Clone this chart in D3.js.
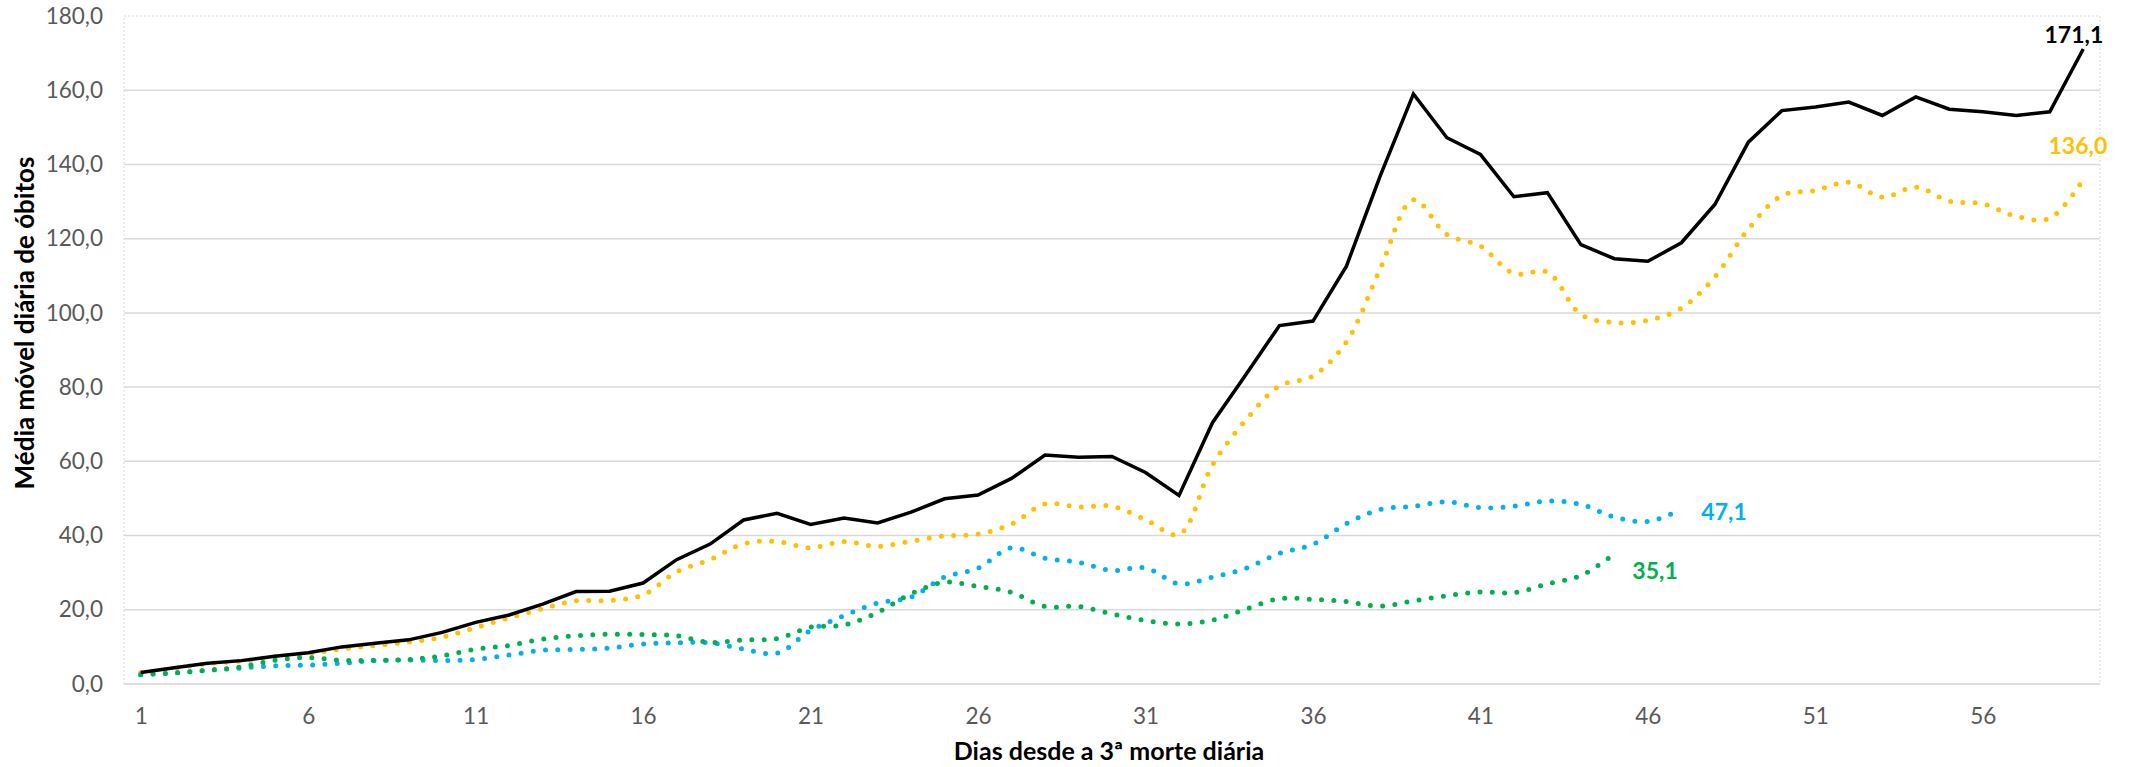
<!DOCTYPE html>
<html><head><meta charset="utf-8">
<script src="https://cdn.jsdelivr.net/npm/d3@7"></script>
<style>body{margin:0;background:#fff;} svg{display:block;} text{font-family:Lato, "Open Sans", sans-serif;}</style>
</head><body>
<svg id="chart" width="2130" height="767"></svg>
<script>
const days = d3.range(1, 60);
const seriesBlack = [3.1,4.4,5.6,6.3,7.5,8.4,10.0,11.0,11.9,13.9,16.6,18.6,21.5,24.9,25.0,27.2,33.5,37.7,44.2,46.0,43.0,44.7,43.4,46.3,49.9,50.9,55.4,61.7,61.1,61.3,57.0,50.8,70.4,83.4,96.6,97.8,112.6,136.7,159.0,147.2,142.7,131.3,132.4,118.4,114.6,113.9,118.9,129.2,146.0,154.5,155.5,156.8,153.2,158.2,154.9,154.2,153.2,154.2,171.1];
const seriesOrange = [3.0,4.2,5.5,6.2,7.3,8.2,9.4,10.4,11.3,12.6,15.2,17.8,20.3,22.4,22.5,24.0,30.2,33.5,37.8,38.4,36.7,38.4,37.1,38.5,39.9,40.4,43.1,48.5,47.7,47.9,44.3,40.3,59.0,71.2,80.3,83.0,92.2,111.7,130.5,121.1,118.0,110.6,111.0,99.6,97.4,98.0,101.3,109.7,122.6,131.6,133.0,135.2,131.2,133.9,130.1,129.4,126.0,125.5,136.0];
const seriesBlue = [2.5,3.0,3.7,4.3,4.9,5.1,5.6,6.3,6.5,6.3,6.6,7.8,9.1,9.3,9.7,10.8,11.1,11.1,9.4,8.3,14.4,18.4,21.8,23.4,28.8,31.2,36.7,33.9,32.8,30.6,31.3,27.0,28.8,31.2,35.2,37.6,43.2,47.0,47.9,49.1,47.5,47.9,49.3,48.4,45.0,43.8,47.1];
const seriesGreen = [2.5,3.0,3.7,4.6,6.4,7.1,6.4,6.4,6.6,7.6,9.4,10.4,12.1,13.0,13.4,13.3,13.0,11.2,11.9,12.2,15.3,15.9,19.3,24.3,27.4,26.3,24.7,20.9,20.9,18.9,17.1,16.2,17.2,20.2,23.0,22.8,22.2,21.0,22.4,23.8,24.8,24.6,27.0,29.2,35.1];
const yTicks = [0,20,40,60,80,100,120,140,160,180];
const xTicks = [1,6,11,16,21,26,31,36,41,46,51,56];
const yTitle = "Média móvel diária de óbitos";
const xTitle = "Dias desde a 3ª morte diária";

const svg = d3.select("#chart");
const L = 124, R = 2100, T = 16, B = 684;
const x = d3.scalePoint().domain(days).range([L, R]).padding(0.5);
const y = d3.scaleLinear().domain([0, 180]).range([B, T]);
const fmt = v => d3.format(".1f")(v).replace(".", ",");

svg.append("g").selectAll("line").data(yTicks.filter(v => v < 180)).join("line")
  .attr("x1", L).attr("x2", R).attr("y1", d => y(d)).attr("y2", d => y(d))
  .attr("stroke", "#d9d9d9").attr("stroke-width", 1.5);
svg.append("rect").attr("x", L).attr("y", T).attr("width", R - L).attr("height", B - T)
  .attr("fill", "none").attr("stroke", "#d9d9d9").attr("stroke-width", 1).attr("stroke-dasharray", "2 2");

const yAxis = d3.axisLeft(y).tickValues(yTicks).tickFormat(fmt).tickSize(0).tickPadding(21);
const gy = svg.append("g").attr("transform", `translate(${L},0)`).call(yAxis);
gy.select(".domain").remove();
gy.selectAll("text").attr("fill", "#595959").style("font-size", "22.5px").style("font-family", "Lato");

const xAxis = d3.axisBottom(x).tickValues(xTicks).tickSize(0).tickPadding(24);
const gx = svg.append("g").attr("transform", `translate(0,${B})`).call(xAxis);
gx.select(".domain").remove();
gx.selectAll("text").attr("fill", "#595959").style("font-size", "22.5px").style("font-family", "Lato");

const line = d3.line().x((d, i) => x(days[i])).y(d => y(d));
const smooth = d3.line().x((d, i) => x(days[i])).y(d => y(d)).curve(d3.curveCatmullRom.alpha(0.5));

function dotted(data, color) {
  svg.append("path").datum(data).attr("d", smooth).attr("fill", "none")
    .attr("stroke", color).attr("stroke-width", 5).attr("stroke-linecap", "round")
    .attr("stroke-dasharray", "0 12.3");
}
dotted(seriesOrange, "#FFC000");
dotted(seriesBlue, "#00B0F0");
dotted(seriesGreen, "#00B050");
svg.append("path").datum(seriesBlack).attr("d", line).attr("fill", "none")
  .attr("stroke", "#000").attr("stroke-width", 3.5).attr("stroke-linejoin", "miter");

function endLabel(data, color, dx, dy, anchor) {
  const i = data.length - 1;
  svg.append("text").attr("x", x(days[i]) + dx).attr("y", y(data[i]) + dy)
    .attr("text-anchor", anchor).attr("fill", color)
    .style("font-size", "23px").style("font-weight", "bold").text(fmt(data[i]));
}
endLabel(seriesBlack, "#000", 20, -6, "end");
endLabel(seriesOrange, "#FFC000", 24, -25, "end");
endLabel(seriesBlue, "#00B0F0", 20, 11, "start");
endLabel(seriesGreen, "#00B050", 18, 25, "start");

svg.append("text").attr("transform", `translate(34,323) rotate(-90)`)
  .attr("text-anchor", "middle").style("font-size", "26px").style("font-weight", "bold")
  .attr("fill", "#000").text(yTitle);
svg.append("text").attr("x", 1109).attr("y", 760).attr("text-anchor", "middle")
  .style("font-size", "25px").style("font-weight", "bold").attr("fill", "#000").text(xTitle);
</script>
</body></html>
